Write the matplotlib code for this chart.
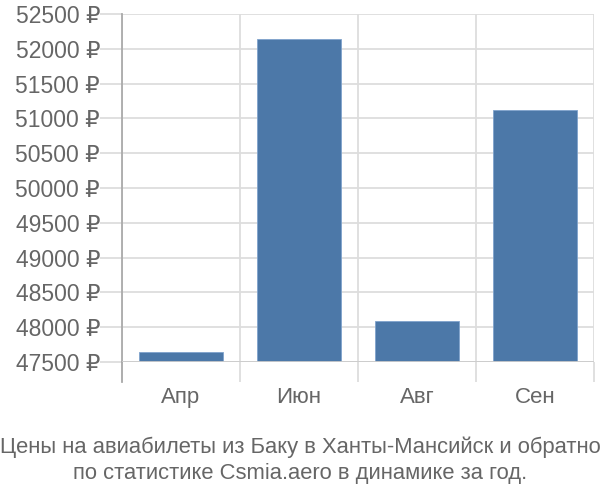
import matplotlib
matplotlib.use("Agg")
import matplotlib.pyplot as plt
from matplotlib.ticker import FuncFormatter, FixedLocator

plt.rcParams['font.family'] = ['Liberation Sans', 'DejaVu Sans']

categories = ["Апр", "Июн", "Авг", "Сен"]
values = [47640, 52137, 48089, 51121]
yticks = [47500, 48000, 48500, 49000, 49500, 50000, 50500, 51000, 51500, 52000, 52500]
title = "Цены на авиабилеты из Баку в Ханты-Мансийск и обратно\nпо статистике Csmia.aero в динамике за год."

fig = plt.figure(figsize=(6, 5), dpi=100)
ax = fig.add_axes([122/600, 1-362/500, (594-122)/600, (362-14)/500])

x = list(range(len(categories)))
ax.bar(x, [v - yticks[0] for v in values], bottom=yticks[0], width=0.72,
       color="#4c78a8", edgecolor="#7fa3cc", linewidth=0.6, zorder=3)

ax.set_xlim(-0.5, len(categories) - 0.5)
ax.set_ylim(yticks[0], yticks[-1])
ax.set_yticks(yticks)
ax.yaxis.set_major_formatter(FuncFormatter(lambda v, p: f"{int(v)} ₽"))
ax.set_xticks(x)
ax.set_xticklabels(categories)
bounds = [i - 0.5 for i in range(len(categories) + 1)]
ax.xaxis.set_minor_locator(FixedLocator(bounds))

lw = 1.3
ax.grid(axis='y', which='major', color="#dddddd", linewidth=lw, zorder=0)
ax.grid(axis='x', which='minor', color="#dddddd", linewidth=lw, zorder=0)
ax.tick_params(axis='y', which='major', length=15.8, width=lw, color="#dddddd",
               labelsize=16.5, labelcolor="#666666", pad=0)
ax.tick_params(axis='x', which='major', length=0, labelsize=16, labelcolor="#666666", pad=18)
ax.tick_params(axis='x', which='minor', length=14.4, width=lw, color="#dddddd")

for s in ['top', 'right', 'bottom']:
    ax.spines[s].set_visible(False)
ax.spines['left'].set_color("#aaaaaa")
ax.spines['left'].set_linewidth(lw)
ax.spines['left'].set_bounds(yticks[0], yticks[-1])
ax.plot([-0.5, -0.5], [0, -20/348], transform=ax.get_xaxis_transform(),
        color="#aaaaaa", linewidth=lw, clip_on=False, zorder=4)
ax.axhline(yticks[0], color="#cccccc", linewidth=lw, zorder=4)

fig.text(0.5, 1-460/500, title, ha='center', va='center', fontsize=15.8,
         color="#666666", linespacing=1.3)

fig.savefig("out.png", dpi=100)
